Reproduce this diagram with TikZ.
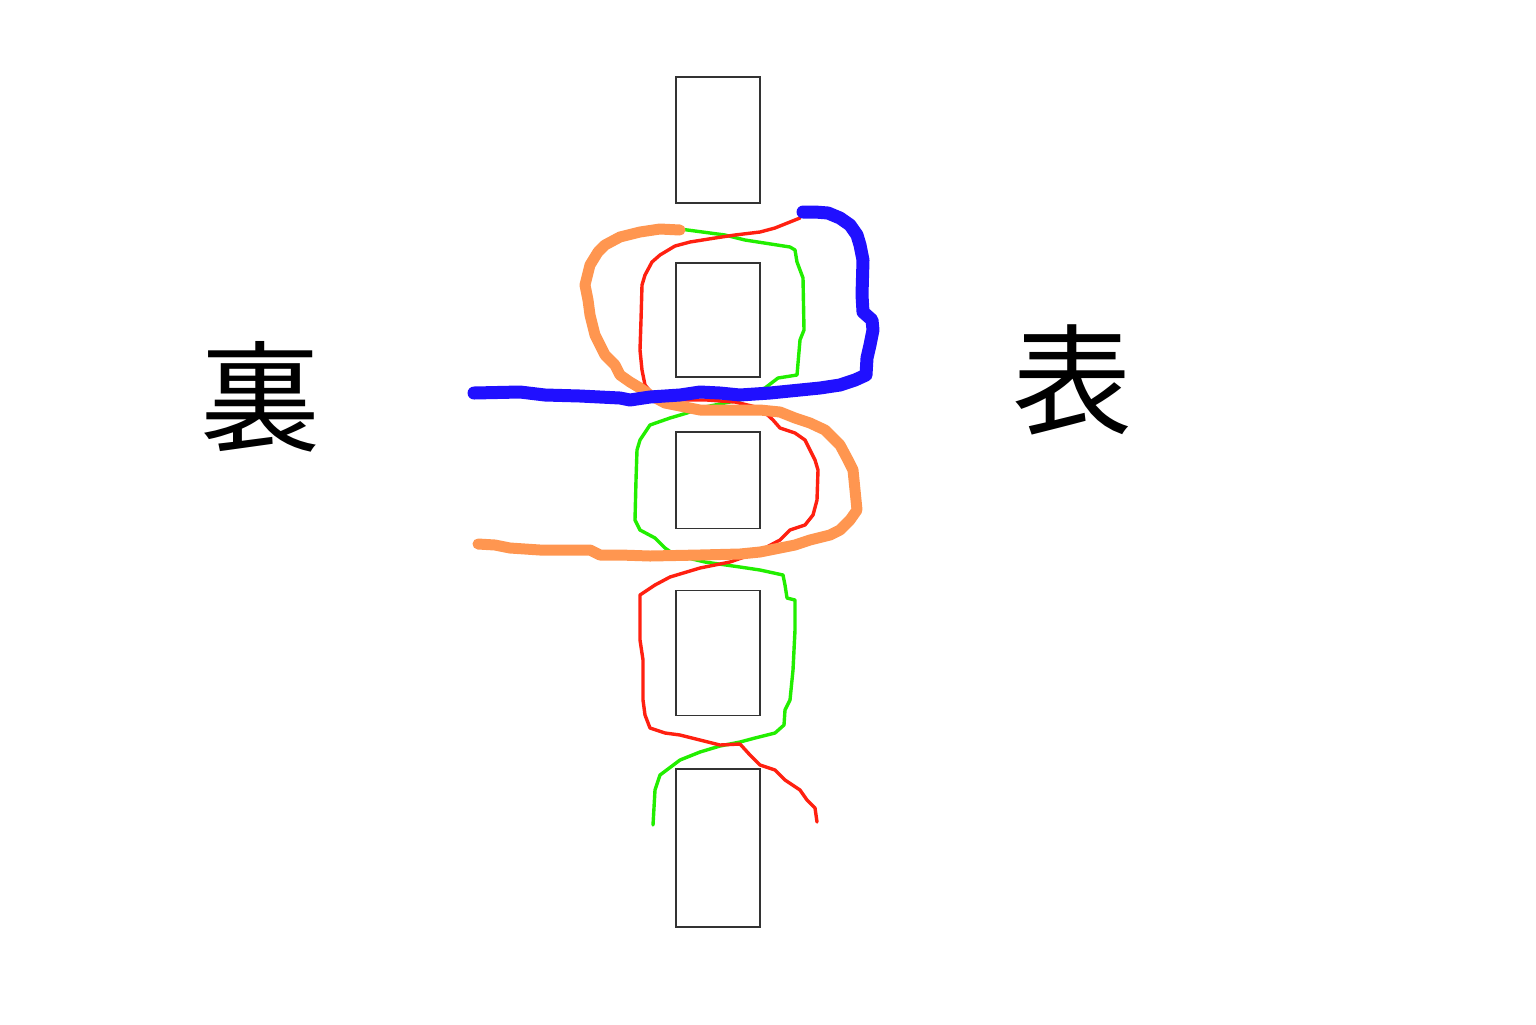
\documentclass[tikz,border=0pt]{standalone}
\usepackage{fontspec}
\newfontfamily\cjk{Noto Sans CJK JP}
\definecolor{boxgray}{HTML}{333333}
\definecolor{penblue}{HTML}{2010FF}
\definecolor{penorange}{HTML}{FF9650}
\definecolor{pengreen}{HTML}{22EE00}
\definecolor{penred}{HTML}{FF2010}
\tikzset{
  slot/.style={draw=boxgray, line width=0.8pt, minimum width=42pt, inner sep=0pt, fill=none},
  kanji/.style={font=\cjk\fontsize{60}{60}\selectfont, inner sep=0pt},
  pen/.style={line join=round, line cap=round},
}
\begin{document}
\begin{tikzpicture}[x=0.5pt, y=-0.5pt]
\useasboundingbox (0,0) rectangle (1536,1024);
% slots
\node[slot, minimum height=63pt] (b1) at (718,140) {};
\node[slot, minimum height=57pt] (b2) at (718,320) {};
\node[slot, minimum height=48.3pt] (b3) at (718,480) {};
\node[slot, minimum height=62.5pt] (b4) at (718,653) {};
\node[slot, minimum height=79pt] (b5) at (718,848) {};
% labels
\node[kanji] (ura) at (260,397) {裏};
\node[kanji] (omote) at (1072,380) {表};
% green thread
\draw[pen, pengreen, line width=1.7pt]
 (680,229) -- (725,235) -- (745,240) -- (790,247) -- (795,250) -- (797,262) -- (803,278) -- (804,330) -- (800,340) -- (797,375) -- (778,378) -- (765,388) -- (740,400) -- (700,408) -- (687,413) -- (670,418) -- (650,425) -- (640,440) -- (637,450) -- (636,480) -- (635,520) -- (640,530) -- (655,538) -- (665,548) -- (675,555) -- (705,562) -- (740,567) -- (760,570) -- (783,575) -- (785,585) -- (787,598) -- (795,600) -- (795,630) -- (793,670) -- (790,700) -- (785,710) -- (784,725) -- (775,733) -- (755,738) -- (740,742) -- (720,746) -- (700,752) -- (680,760) -- (660,775) -- (655,790) -- (653,825);
% red thread
\draw[pen, penred, line width=1.7pt]
 (800,218) -- (790,222) -- (775,228) -- (760,232) -- (735,235) -- (715,238) -- (690,242) -- (675,246) -- (660,255) -- (652,262) -- (645,275) -- (642,285) -- (641,320) -- (640,350) -- (642,370) -- (645,385) -- (655,397) -- (680,400) -- (707,400) -- (735,402) -- (760,408) -- (773,420) -- (780,428) -- (795,433) -- (805,440) -- (815,460) -- (818,470) -- (817,500) -- (813,515) -- (805,525) -- (790,530) -- (780,540) -- (765,548) -- (750,555) -- (730,562) -- (700,568) -- (670,577) -- (655,585) -- (640,595) -- (640,640) -- (643,660) -- (643,700) -- (645,715) -- (650,728) -- (665,733) -- (680,735) -- (700,740) -- (720,745) -- (740,744) -- (750,755) -- (760,765) -- (775,770) -- (785,780) -- (800,790) -- (807,800) -- (815,808) -- (817,822);
% orange cord
\draw[pen, penorange, line width=5.5pt]
 (680,230) -- (660,229) -- (640,232) -- (620,237) -- (605,245) -- (598,252) -- (590,265) -- (585,285) -- (588,300) -- (590,315) -- (595,335) -- (600,345) -- (605,355) -- (615,365) -- (620,375) -- (630,382) -- (640,388) -- (650,395) -- (665,403) -- (690,408) -- (700,410) -- (760,410) -- (780,412) -- (795,418) -- (810,423) -- (825,430) -- (840,445) -- (848,460) -- (853,470) -- (855,490) -- (857,510) -- (850,520) -- (840,530) -- (830,535) -- (810,540) -- (795,545) -- (780,548) -- (760,552) -- (740,554) -- (700,555) -- (650,556) -- (620,555) -- (600,555) -- (590,550) -- (560,550) -- (540,550) -- (510,548) -- (495,545) -- (478,544);
% blue cord
\draw[pen, penblue, line width=6.5pt]
 (474,393) -- (520,392) -- (545,395) -- (580,396) -- (620,398) -- (630,400) -- (650,397) -- (680,395) -- (700,392) -- (720,393) -- (740,395) -- (770,393) -- (800,390) -- (820,388) -- (840,385) -- (855,380) -- (866,375) -- (867,358) -- (870,345) -- (873,330) -- (872,320) -- (863,312) -- (862,295) -- (863,260) -- (860,245) -- (857,235) -- (850,225) -- (840,218) -- (828,213) -- (815,212) -- (803,212);
\end{tikzpicture}
\end{document}
